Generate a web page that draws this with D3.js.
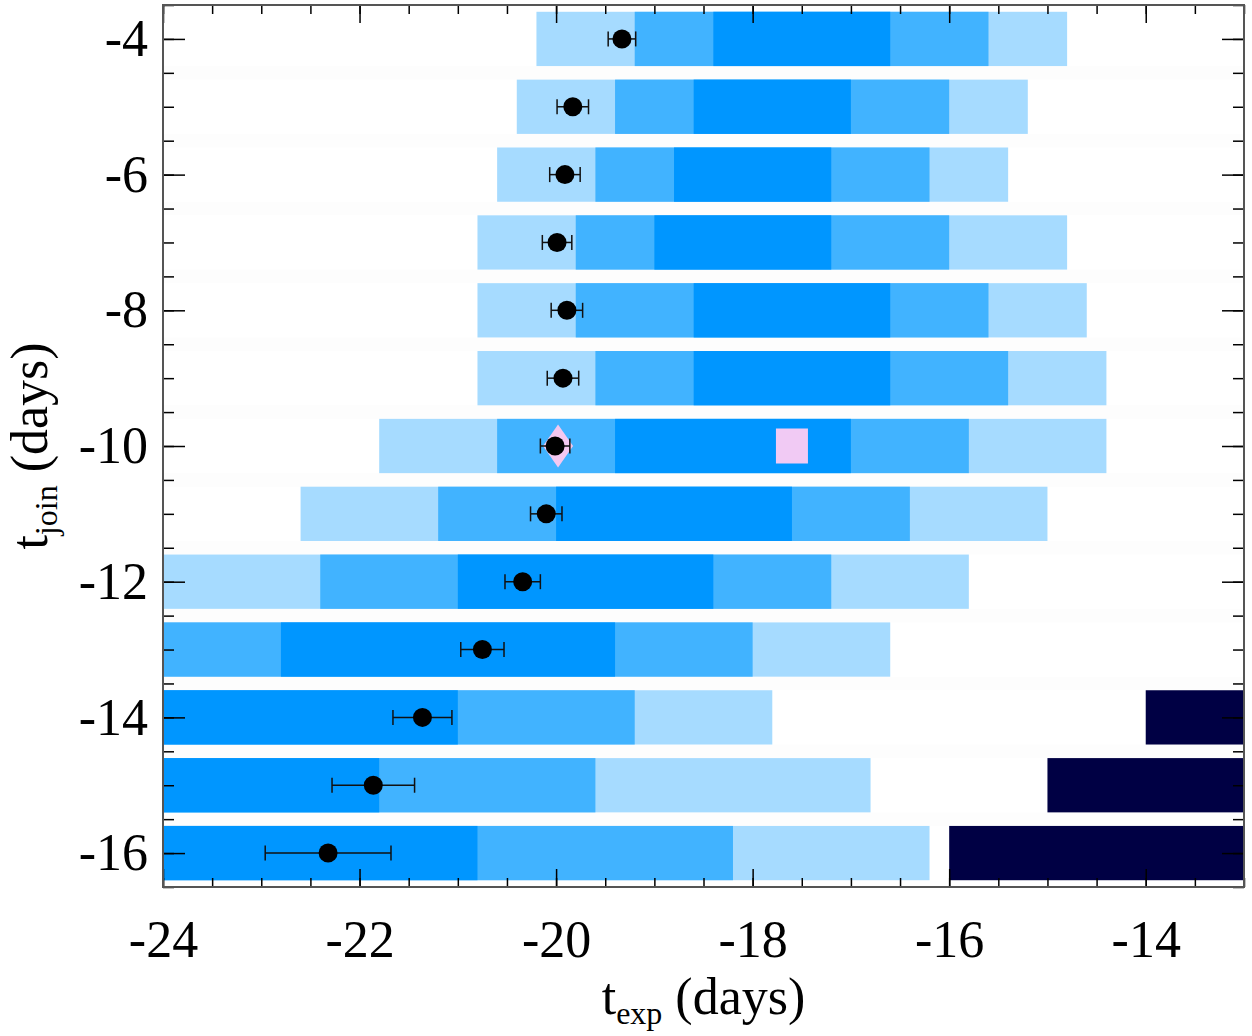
<!DOCTYPE html>
<html>
<head>
<meta charset="utf-8">
<script src="https://cdn.jsdelivr.net/npm/d3@7"></script>
<style>
  body { margin: 0; background: #fff; }
  svg text { font-family: "Liberation Serif", "Times New Roman", serif; fill: #000; }
</style>
</head>
<body>
<div id="myChart"></div>
<script>
// Rows (t_join, days) and the band edges along t_exp (days)
let tjoin = [-4, -5, -6, -7, -8, -9, -10, -11, -12, -13, -14, -15, -16];
let lightLo = [-20.2, -20.4, -20.6, -20.8, -20.8, -20.8, -21.8, -22.6, -24, -24, -24, -24, -24];
let midLo = [-19.2, -19.4, -19.6, -19.8, -19.8, -19.6, -20.6, -21.2, -22.4, -24, -24, -24, -24];
let darkLo = [-18.4, -18.6, -18.8, -19.0, -18.6, -18.6, -19.4, -20.0, -21.0, -22.8, -24, -24, -24];
let darkHi = [-16.6, -17.0, -17.2, -17.2, -16.6, -16.6, -17.0, -17.6, -18.4, -19.4, -21.0, -21.8, -20.8];
let midHi = [-15.6, -16.0, -16.2, -16.0, -15.6, -15.4, -15.8, -16.4, -17.2, -18.0, -19.2, -19.6, -18.2];
let lightHi = [-14.8, -15.2, -15.4, -14.8, -14.6, -14.4, -14.4, -15.0, -15.8, -16.6, -17.8, -16.8, -16.2];

// Excluded region (navy) for the latest joins
let navyRows = [-14, -15, -16];
let navyLo = [-14.0, -15.0, -16.0];

// Best-fit t_exp per row with error
let texp = [-19.33, -19.83, -19.91, -19.99, -19.89, -19.93, -20.01, -20.10, -20.34, -20.75, -21.36, -21.86, -22.32];
let texpErr = [0.14, 0.16, 0.155, 0.15, 0.16, 0.16, 0.15, 0.16, 0.18, 0.22, 0.30, 0.42, 0.64];

// Special markers
let diamondPt = [{ x: -19.98, y: -10 }];
let squarePt = [{ x: -17.6, y: -10 }];

let xMajor = [-24, -22, -20, -18, -16, -14];
let yMajor = [-4, -6, -8, -10, -12, -14, -16];

let margin = { top: 5, right: 8, bottom: 149, left: 163 },
  width = 1252 - margin.left - margin.right,
  height = 1036 - margin.top - margin.bottom;

let svg = d3
  .select("#myChart")
  .append("svg")
  .attr("width", width + margin.left + margin.right)
  .attr("height", height + margin.top + margin.bottom)
  .append("g")
  .attr("transform", `translate(${margin.left}, ${margin.top})`);

let x = d3.scaleLinear().domain([-24, -13]).range([0, width]);
let y = d3.scaleLinear().domain([-3.5, -16.5]).range([0, height]);

let xMinor = d3.range(-24, -12.99, 0.5);
let yMinor = d3.range(-3.5, -16.51, -0.5);

svg
  .append("clipPath")
  .attr("id", "plotClip")
  .append("rect")
  .attr("width", width)
  .attr("height", height);

let plot = svg.append("g").attr("clip-path", "url(#plotClip)");

// very faint stripes between rows
plot
  .selectAll(".gap")
  .data(tjoin.slice(0, -1))
  .enter()
  .append("rect")
  .attr("x", 0)
  .attr("width", width)
  .attr("y", (d) => y(d - 0.4))
  .attr("height", (d) => y(d - 0.6) - y(d - 0.4))
  .attr("fill", "#fdfdfd");

let rows = tjoin.map((t, i) => ({
  t: t,
  bands: [
    [lightLo[i], lightHi[i], "#a6dbff"],
    [midLo[i], midHi[i], "#41b3ff"],
    [darkLo[i], darkHi[i], "#0096ff"],
  ],
}));

let bandH = y(-0.8) - y(0);

plot
  .selectAll(".row")
  .data(rows)
  .enter()
  .append("g")
  .attr("class", "row")
  .selectAll("rect")
  .data((d) => d.bands.map((b) => ({ t: d.t, lo: b[0], hi: b[1], c: b[2] })))
  .enter()
  .append("rect")
  .attr("x", (d) => x(Math.max(d.lo, -24.5)))
  .attr("width", (d) => x(d.hi) - x(Math.max(d.lo, -24.5)))
  .attr("y", (d) => y(d.t + 0.4))
  .attr("height", bandH)
  .attr("fill", (d) => d.c);

plot
  .selectAll(".navy")
  .data(navyRows)
  .enter()
  .append("rect")
  .attr("x", (d, i) => x(navyLo[i]))
  .attr("width", (d, i) => x(-12.5) - x(navyLo[i]))
  .attr("y", (d) => y(d + 0.4))
  .attr("height", bandH)
  .attr("fill", "#000044");

// pink markers
plot
  .selectAll(".diamond")
  .data(diamondPt)
  .enter()
  .append("path")
  .attr("transform", (d) => `translate(${x(d.x)},${y(d.y)})`)
  .attr("d", "M0,-21.5L15,0L0,21.5L-15,0Z")
  .attr("fill", "#f4c8f0");

plot
  .selectAll(".square")
  .data(squarePt)
  .enter()
  .append("rect")
  .attr("x", (d) => x(d.x) - 16)
  .attr("y", (d) => y(d.y) - 17.5)
  .attr("width", 32)
  .attr("height", 35)
  .attr("fill", "#f1caf4");

// points with error bars
let pts = tjoin.map((t, i) => ({ t: t, v: texp[i], e: texpErr[i] }));

let eb = plot.selectAll(".eb").data(pts).enter().append("g").attr("class", "eb");

eb.append("line")
  .attr("x1", (d) => x(d.v - d.e))
  .attr("x2", (d) => x(d.v + d.e))
  .attr("y1", (d) => y(d.t))
  .attr("y2", (d) => y(d.t))
  .attr("stroke", "#111")
  .attr("stroke-width", 1.5);

eb.selectAll(".cap")
  .data((d) => [
    { t: d.t, v: d.v - d.e },
    { t: d.t, v: d.v + d.e },
  ])
  .enter()
  .append("line")
  .attr("x1", (d) => x(d.v))
  .attr("x2", (d) => x(d.v))
  .attr("y1", (d) => y(d.t) - 7.5)
  .attr("y2", (d) => y(d.t) + 7.5)
  .attr("stroke", "#111")
  .attr("stroke-width", 1.5);

eb.append("circle")
  .attr("cx", (d) => x(d.v))
  .attr("cy", (d) => y(d.t))
  .attr("r", 9.5)
  .attr("fill", "#000");

// axes: inward ticks on all four sides
function styleAxis(g) {
  g.select(".domain").remove();
  g.selectAll(".tick line").attr("stroke", "#000").attr("stroke-width", 1.5);
  g.selectAll(".tick text").style("font-size", "52px").attr("fill", "#000");
}

svg.append("g")
  .attr("transform", `translate(0,${height})`)
  .call(d3.axisBottom(x).tickValues(xMinor).tickSize(-9).tickFormat(""))
  .call(styleAxis);
svg.append("g")
  .attr("transform", `translate(0,${height})`)
  .call(d3.axisBottom(x).tickValues(xMajor).tickSize(-18).tickPadding(33).tickFormat((d) => String(d)))
  .call(styleAxis);
svg.append("g")
  .call(d3.axisTop(x).tickValues(xMinor).tickSize(-9).tickFormat(""))
  .call(styleAxis);
svg.append("g")
  .call(d3.axisTop(x).tickValues(xMajor).tickSize(-18).tickFormat(""))
  .call(styleAxis);

svg.append("g")
  .call(d3.axisLeft(y).tickValues(yMinor).tickSize(-11).tickFormat(""))
  .call(styleAxis);
svg.append("g")
  .call(d3.axisLeft(y).tickValues(yMajor).tickSize(-22).tickPadding(15).tickFormat((d) => String(d)))
  .call(styleAxis);
svg.append("g")
  .attr("transform", `translate(${width},0)`)
  .call(d3.axisRight(y).tickValues(yMinor).tickSize(-11).tickFormat(""))
  .call(styleAxis);
svg.append("g")
  .attr("transform", `translate(${width},0)`)
  .call(d3.axisRight(y).tickValues(yMajor).tickSize(-22).tickFormat(""))
  .call(styleAxis);

// frame
svg.append("rect")
  .attr("width", width)
  .attr("height", height)
  .attr("fill", "none")
  .attr("stroke", "#555")
  .attr("stroke-width", 2);

// X-axis title
let xTitle = svg
  .append("text")
  .attr("x", width / 2)
  .attr("y", 1014 - margin.top)
  .style("text-anchor", "middle")
  .style("font-size", "52px");
xTitle.append("tspan").text("t");
xTitle.append("tspan").attr("dy", "10").style("font-size", "32px").text("exp");
xTitle.append("tspan").attr("dy", "-10").text(" (days)");

// Y-axis title
let yTitle = svg
  .append("text")
  .attr("transform", `translate(${47 - margin.left},${height / 2}) rotate(-90)`)
  .style("text-anchor", "middle")
  .style("font-size", "52px");
yTitle.append("tspan").text("t");
yTitle.append("tspan").attr("dy", "10").style("font-size", "32px").text("join");
yTitle.append("tspan").attr("dy", "-10").text(" (days)");
</script>
</body>
</html>
